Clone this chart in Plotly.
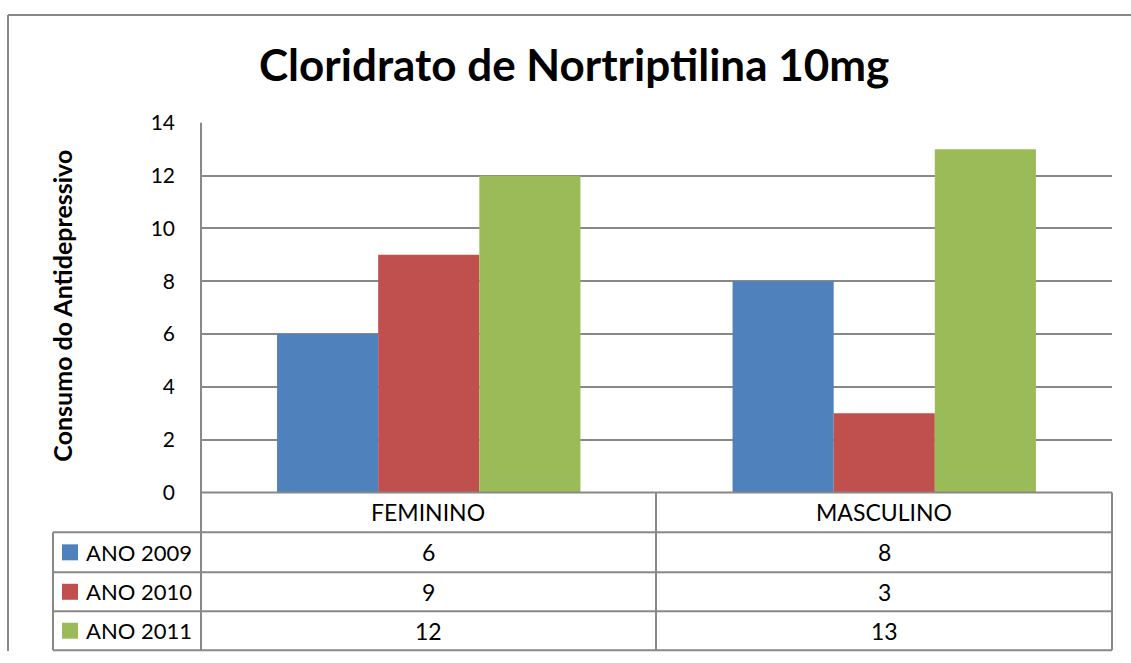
import plotly.graph_objects as go

# ---- data ----
title_text = "Cloridrato de Nortriptilina 10mg"
y_title = "Consumo do Antidepressivo"
categories = ["FEMININO", "MASCULINO"]
series_names = ["ANO 2009", "ANO 2010", "ANO 2011"]
values_2009 = [6, 8]
values_2010 = [9, 3]
values_2011 = [12, 13]
y_ticks = [0, 2, 4, 6, 8, 10, 12, 14]

series_values = [values_2009, values_2010, values_2011]
colors = ["#4F81BD", "#C0504D", "#9BBB59"]

W, H = 1131, 663
FONT = "Lato"
LINE = "#888888"

# the photographed page maps figure pixel y to picture y as OFF + SC * y
OFF, SC = 13.0, 0.9635


def px(x):
    return x / W


def py(y):
    fy = (y - OFF) / SC
    fy = min(max(fy, 1.0), H - 1.0)
    return 1 - fy / H


fig = go.Figure()
for name, vals, col in zip(series_names, series_values, colors):
    fig.add_trace(go.Bar(x=categories, y=vals, name=name, marker=dict(color=col, line=dict(width=0))))

# target picture geometry
X0, X1 = 201, 1112
Y0, Y1 = 492, 122
XM = 656
ROWS = [492, 532, 572, 611, 650]
TL = 53

fig.update_layout(
    width=W, height=H,
    margin=dict(l=0, r=0, t=0, b=0),
    paper_bgcolor="white", plot_bgcolor="white",
    showlegend=False,
    barmode="group", bargap=0.334, bargroupgap=0,
    font=dict(family=FONT, color="black"),
    xaxis=dict(domain=[px(X0), px(X1)], range=[-0.5, 1.5], showticklabels=False,
               showgrid=False, zeroline=False, showline=False, fixedrange=True),
    yaxis=dict(domain=[py(Y0), py(Y1)], range=[0, 14], tickvals=y_ticks,
               ticktext=[str(v) for v in y_ticks], tickfont=dict(size=21, family=FONT),
               ticks="", ticklabelstandoff=25, showgrid=True, gridcolor=LINE, gridwidth=1.5,
               zeroline=False, showline=False, fixedrange=True),
)

shapes = []


def hline(y, xa, xb):
    shapes.append(dict(type="line", xref="paper", yref="paper", x0=px(xa), x1=px(xb),
                       y0=py(y), y1=py(y), line=dict(color=LINE, width=2)))


def vline(x, ya, yb):
    shapes.append(dict(type="line", xref="paper", yref="paper", x0=px(x), x1=px(x),
                       y0=py(ya), y1=py(yb), line=dict(color=LINE, width=2)))


# outer chart frame
hline(10, 8, W)
vline(8, 10, 700)
# axes + table grid
hline(ROWS[0], X0, X1)
for r in ROWS[1:]:
    hline(r, TL, X1)
vline(TL, ROWS[1], ROWS[-1])
vline(X0, Y1, ROWS[-1])
vline(XM, ROWS[0], ROWS[-1])
vline(X1, ROWS[0], ROWS[-1])

annotations = []
# title
annotations.append(dict(text="<b>" + title_text + "</b>", x=px(574), y=py(63), xref="paper", yref="paper",
                        showarrow=False, font=dict(size=44, family=FONT), xanchor="center", yanchor="middle"))
# y title
annotations.append(dict(text="<b>" + y_title + "</b>", x=px(62), y=py(305), xref="paper", yref="paper",
                        showarrow=False, textangle=-90, font=dict(size=25, family=FONT),
                        xanchor="center", yanchor="middle"))
# header categories
col_centers = [(X0 + XM) / 2, (XM + X1) / 2]
TF = 23
for c, cx in zip(categories, col_centers):
    annotations.append(dict(text=c, x=px(cx), y=py((ROWS[0] + ROWS[1]) / 2), xref="paper", yref="paper",
                            showarrow=False, font=dict(size=TF, family=FONT), xanchor="center", yanchor="middle"))
# rows
for i, (name, vals, col) in enumerate(zip(series_names, series_values, colors)):
    yc = (ROWS[i + 1] + ROWS[i + 2]) / 2
    shapes.append(dict(type="rect", xref="paper", yref="paper", x0=px(62), x1=px(78),
                       y0=py(yc - 8), y1=py(yc + 8), fillcolor=col, line=dict(width=0)))
    annotations.append(dict(text=name, x=px(84), y=py(yc), xref="paper", yref="paper", showarrow=False,
                            font=dict(size=22, family=FONT), xanchor="left", yanchor="middle"))
    for v, cx in zip(vals, col_centers):
        annotations.append(dict(text=str(v), x=px(cx), y=py(yc), xref="paper", yref="paper",
                                showarrow=False, font=dict(size=TF, family=FONT),
                                xanchor="center", yanchor="middle"))

fig.update_layout(shapes=shapes, annotations=annotations)

fig.write_html("out.html", config={"displayModeBar": False},
               post_script="document.body.style.margin='0';document.body.style.overflow='hidden';")
